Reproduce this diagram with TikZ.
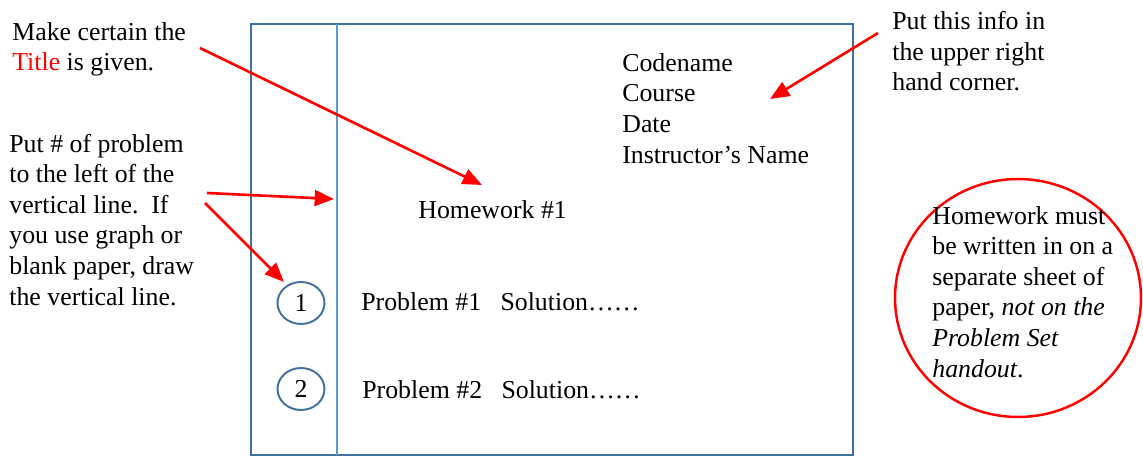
\documentclass[tikz,border=0pt]{standalone}
\usepackage{fontspec}
\setmainfont{Liberation Serif}
\usetikzlibrary{arrows.meta,shapes.geometric}
\definecolor{boxblue}{RGB}{65,113,156}
\definecolor{lineblue}{RGB}{91,155,213}
\begin{document}
\begin{tikzpicture}[x=0.02cm,y=-0.02cm,
  txt/.style={font=\fontsize{14.7pt}{17.4pt}\selectfont, inner sep=0pt, align=left, anchor=base west},
  redarrow/.style={draw=red, line width=1.5pt, -{Triangle[length=11pt,width=9pt]}},
  num/.style={ellipse, draw=boxblue, line width=1.1pt, minimum width=0.94cm, minimum height=0.84cm, inner sep=0pt, font=\fontsize{14.7pt}{17.4pt}\selectfont}]
\useasboundingbox (0,0) rectangle (1143,456);
% page
\node[draw=boxblue, line width=1.2pt, minimum width=12.04cm, minimum height=8.62cm, inner sep=0pt, outer sep=0pt, anchor=north west] (page) at (251,24) {};
\coordinate (mt) at (337,24);
\coordinate (mb) at (337,455);
\draw[lineblue, line width=1.2pt] (mt) -- (mb);
% page content (base anchor = baseline of last line)
\node[txt] (info) at (622,163) {Codename\\Course\\Date\\Instructor’s Name};
\node[txt] (hw) at (418,218) {Homework \#1};
\node[num] (c1) at (301,303) {1};
\node[num] (c2) at (301,389) {2};
\node[txt] (p1) at (361,310) {Problem \#1\ \ \ Solution……};
\node[txt] (p2) at (362,398) {Problem \#2\ \ \ Solution……};
% annotations
\node[txt] (title) at (12,71) {Make certain the\\\textcolor{red}{Title} is given.};
\node[txt] (putnum) at (9,305) {Put \# of problem\\to the left of the\\vertical line.\ \ If\\you use graph or\\blank paper, draw\\the vertical line.};
\node[txt] (put) at (892,91) {Put this info in\\the upper right\\hand corner.};
\node[ellipse, draw=red, line width=1.4pt, minimum width=4.92cm, minimum height=4.76cm, inner sep=0pt] (note) at (1018,298) {};
\node[txt] (must) at (932,377) {Homework must\\be written in on a\\separate sheet of\\paper, \textit{not on the}\\\textit{Problem Set}\\\textit{handout}.};
% arrows
\coordinate (a1s) at (200,48);
\coordinate (a1e) at (482,185);
\coordinate (a2s) at (207,193);
\coordinate (a2e) at (334,199);
\coordinate (a3s) at (205,203);
\coordinate (a3e) at (284,282);
\coordinate (a4s) at (878,33);
\coordinate (a4e) at (770,99);
\draw[redarrow] (a1s) -- (a1e);
\draw[redarrow] (a2s) -- (a2e);
\draw[redarrow] (a3s) -- (a3e);
\draw[redarrow] (a4s) -- (a4e);
\end{tikzpicture}
\end{document}
